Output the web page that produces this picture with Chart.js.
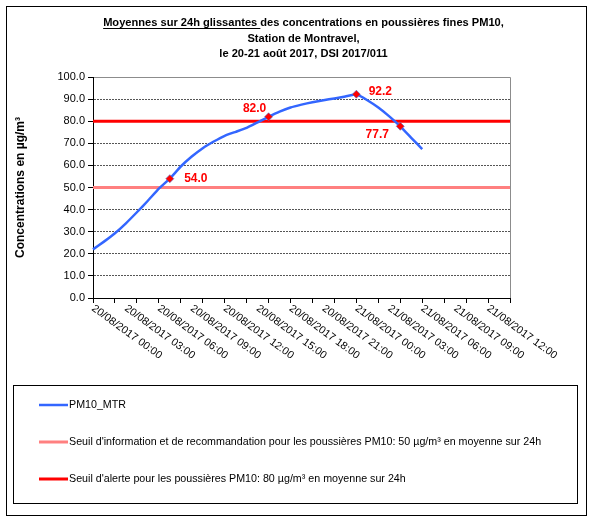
<!DOCTYPE html>
<html>
<head>
<meta charset="utf-8">
<script src="https://cdn.jsdelivr.net/npm/chart.js@4.4.0/dist/chart.umd.min.js"></script>
<style>
  html, body { margin: 0; padding: 0; background: #fff; }
  #wrap { width: 592px; height: 521px; }
</style>
</head>
<body>
<div id="wrap"><canvas id="pm10Chart" width="592" height="521"></canvas></div>
<script>
// Heures (axe des catégories)
const heures = [
  '20/08/2017 00:00', '20/08/2017 01:00', '20/08/2017 02:00', '20/08/2017 03:00', '20/08/2017 04:00',
  '20/08/2017 05:00', '20/08/2017 06:00', '20/08/2017 07:00', '20/08/2017 08:00', '20/08/2017 09:00',
  '20/08/2017 10:00', '20/08/2017 11:00', '20/08/2017 12:00', '20/08/2017 13:00', '20/08/2017 14:00',
  '20/08/2017 15:00', '20/08/2017 16:00', '20/08/2017 17:00', '20/08/2017 18:00', '20/08/2017 19:00',
  '20/08/2017 20:00', '20/08/2017 21:00', '20/08/2017 22:00', '20/08/2017 23:00', '21/08/2017 00:00',
  '21/08/2017 01:00', '21/08/2017 02:00', '21/08/2017 03:00', '21/08/2017 04:00', '21/08/2017 05:00',
  '21/08/2017 06:00', '21/08/2017 07:00', '21/08/2017 08:00', '21/08/2017 09:00', '21/08/2017 10:00',
  '21/08/2017 11:00', '21/08/2017 12:00', '21/08/2017 13:00', '21/08/2017 14:00'
];

// Moyennes glissantes 24h PM10 - station Montravel (µg/m³)
const pm10Mtr = [
  22.0, 25.5, 29.3, 33.8, 38.8, 44.0, 49.5, 54.0, 59.5, 64.0,
  67.8, 70.8, 73.4, 75.2, 77.0, 79.5, 82.0, 84.3, 86.2, 87.5,
  88.6, 89.5, 90.3, 91.2, 92.2, 89.5, 86.2, 82.2, 77.7, 72.5,
  67.4
];

// Points annotés (index dans heures)
const pointsAnnotes = [7, 16, 24, 28];

// Seuils réglementaires
const seuilInfo = 50;
const seuilAlerte = 80;

const yTicks = [0, 10, 20, 30, 40, 50, 60, 70, 80, 90, 100];

const titre = [
  'Moyennes sur 24h glissantes des concentrations en poussières fines PM10,',
  'Station de Montravel,',
  'le 20-21 août 2017, DSI 2017/011'
];
const titreSouligne = 'Moyennes sur 24h glissantes ';

const FONT = "'Liberation Sans', Arial, sans-serif";

// titre, cadres, étiquettes de l'axe X, valeurs et légende
const decorPlugin = {
  id: 'decor',
  beforeDraw(chart) {
    const ctx = chart.ctx;
    const a = chart.chartArea;
    ctx.save();
    ctx.fillStyle = '#fff';
    ctx.fillRect(0, 0, chart.width, chart.height);
    ctx.strokeStyle = '#000';
    ctx.lineWidth = 1;
    ctx.strokeRect(6.5, 6.5, 580, 509);
    // cadre de la zone de tracé
    ctx.strokeStyle = '#8c8c8c';
    ctx.beginPath();
    ctx.moveTo(a.left, a.top + 0.5);
    ctx.lineTo(a.right + 0.5, a.top + 0.5);
    ctx.lineTo(a.right + 0.5, a.bottom);
    ctx.stroke();
    ctx.restore();
  },
  afterDraw(chart) {
    const ctx = chart.ctx;
    const xs = chart.scales.x;
    ctx.save();

    // titre
    ctx.fillStyle = '#000';
    ctx.font = 'bold 11.1px ' + FONT;
    ctx.textAlign = 'left';
    ctx.textBaseline = 'alphabetic';
    const cx = 303.5;
    titre.forEach((ligne, i) => {
      const w = ctx.measureText(ligne).width;
      const x0 = cx - w / 2;
      const y = 26 + i * 15.5;
      ctx.fillText(ligne, x0, y);
      if (i === 0) {
        const wu = ctx.measureText(titreSouligne).width;
        ctx.fillRect(x0, y + 2, wu, 1);
      }
    });

    // étiquettes de l'axe X, une toutes les 3 heures
    ctx.font = '10.8px ' + FONT;
    ctx.textBaseline = 'top';
    heures.forEach((h, i) => {
      if (i % 3 !== 0) return;
      const x = xs.getPixelForValue(i);
      ctx.save();
      ctx.translate(x + 3, 303);
      ctx.rotate(36 * Math.PI / 180);
      ctx.fillText(h, 0, 0);
      ctx.restore();
    });

    // valeurs annotées
    const meta = chart.getDatasetMeta(0);
    const decal = { 7: [26, 0], 16: [-14, -8], 24: [24, -3], 28: [-23, 8] };
    ctx.font = 'bold 12px ' + FONT;
    ctx.fillStyle = '#ff0000';
    ctx.textAlign = 'center';
    ctx.textBaseline = 'middle';
    pointsAnnotes.forEach(i => {
      const p = meta.data[i];
      const d = decal[i];
      ctx.fillText(pm10Mtr[i].toFixed(1), p.x + d[0], p.y + d[1]);
    });

    // légende
    ctx.strokeStyle = '#000';
    ctx.lineWidth = 1;
    ctx.strokeRect(13.5, 385.5, 564, 118);
    ctx.font = '10.7px ' + FONT;
    ctx.fillStyle = '#000';
    ctx.textAlign = 'left';
    chart.data.datasets.forEach((ds, i) => {
      const y = 405 + i * 37;
      ctx.strokeStyle = ds.borderColor;
      ctx.lineWidth = ds.borderWidth;
      ctx.beginPath();
      ctx.moveTo(39, y);
      ctx.lineTo(68, y);
      ctx.stroke();
      ctx.fillText(ds.label, 69, y);
    });
    ctx.restore();
  }
};

const ctx = document.getElementById('pm10Chart').getContext('2d');
new Chart(ctx, {
  type: 'line',
  data: {
    labels: heures,
    datasets: [
      {
        label: 'PM10_MTR',
        data: pm10Mtr,
        borderColor: '#3366ff',
        borderWidth: 2.5,
        tension: 0.1,
        pointStyle: 'rectRot',
        pointRadius: c => pointsAnnotes.includes(c.dataIndex) ? 4 : 0,
        pointBackgroundColor: '#ff0000',
        pointBorderColor: 'rgba(80,110,200,0.6)',
        pointBorderWidth: 1
      },
      {
        label: "Seuil d'information et de recommandation pour les poussières PM10: 50 µg/m³ en moyenne sur 24h",
        data: [{ x: heures[0], y: seuilInfo }, { x: heures[heures.length - 1], y: seuilInfo }],
        borderColor: '#ff8080',
        borderWidth: 3,
        pointRadius: 0
      },
      {
        label: "Seuil d'alerte pour les poussières PM10: 80 µg/m³ en moyenne sur 24h",
        data: [{ x: heures[0], y: seuilAlerte }, { x: heures[heures.length - 1], y: seuilAlerte }],
        borderColor: '#ff0000',
        borderWidth: 3,
        pointRadius: 0
      }
    ]
  },
  options: {
    responsive: false,
    animation: false,
    layout: { autoPadding: false, padding: { left: 0, right: 82, top: 77, bottom: 0 } },
    plugins: {
      legend: { display: false },
      title: { display: false },
      tooltip: { enabled: false }
    },
    scales: {
      x: {
        type: 'category',
        offset: false,
        ticks: { display: false, autoSkip: false },
        grid: {
          drawOnChartArea: false,
          tickLength: 5,
          tickColor: c => (c.index % 2 === 0 ? '#000' : 'rgba(0,0,0,0)')
        },
        border: { display: true, color: '#000', width: 1 },
        afterFit: s => { s.height = 223; }
      },
      y: {
        min: 0,
        max: 100,
        afterBuildTicks: s => { s.ticks = yTicks.map(v => ({ value: v })); },
        ticks: {
          color: '#000',
          padding: 3,
          font: { family: FONT, size: 11 },
          callback: v => Number(v).toFixed(1)
        },
        grid: {
          color: c => (c.tick && (c.tick.value === 0 || c.tick.value === 100) ? 'rgba(0,0,0,0)' : '#555'),
          lineWidth: 1,
          tickLength: 5,
          tickColor: '#000'
        },
        border: { display: true, color: '#000', width: 1, dash: [2, 1] },
        title: {
          display: true,
          text: 'Concentrations en µg/m³',
          color: '#000',
          font: { family: FONT, size: 12, weight: 'bold' },
          padding: { top: 13, bottom: 0 }
        },
        afterFit: s => { s.width = 93; }
      }
    }
  },
  plugins: [decorPlugin]
});
</script>
</body>
</html>
